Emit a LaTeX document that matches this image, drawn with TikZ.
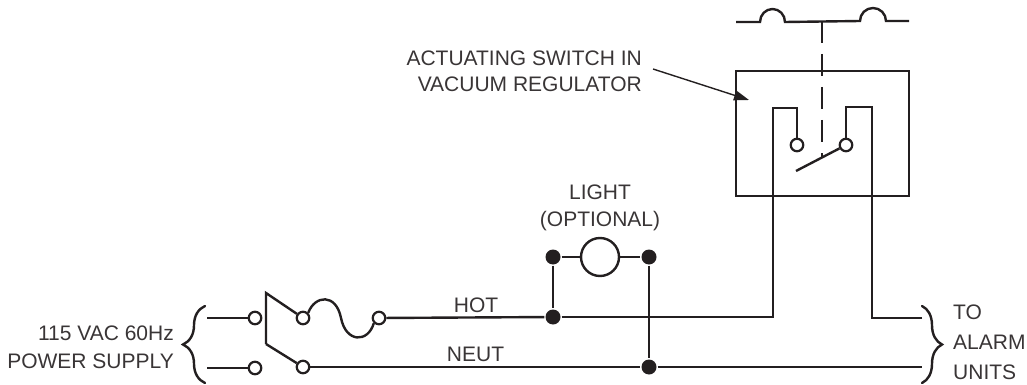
\documentclass[tikz,border=0pt]{standalone}
\usepackage{fontspec}
\setmainfont{Liberation Sans}
\usetikzlibrary{decorations.pathreplacing,arrows.meta}
\definecolor{ink}{HTML}{231F20}
\begin{document}
\begin{tikzpicture}[x=1pt, y=-1pt, ink, line width=2.4pt,
    txt/.style = {draw=none, inner sep=0pt, font=\fontsize{21}{26}\selectfont, text=ink!90},
    term/.style = {circle, draw, fill=white, inner sep=0pt, minimum size=12.5pt, line width=2.2pt},
    spot/.style = {circle, fill, inner sep=0pt, minimum size=15pt},
    brace/.style = {decorate, decoration={brace, amplitude=#1, aspect=0.5}, line cap=round}]
            \useasboundingbox (0,0) rectangle (1027,385);

            \coordinate (hotin) at (207,318);
            \coordinate (neutin) at (207,368);
            \coordinate (hotout) at (922,318);
            \coordinate (neutout) at (922,367);
            \coordinate (pivottop) at (266,293);
            \coordinate (pivotlow) at (266,344);
            \coordinate (blade) at (796,171);
            \coordinate (linkA) at (736,22);
            \coordinate (linkB) at (760,22);
            \coordinate (linkD) at (860,21);
            \coordinate (linkF) at (909,21);
            \coordinate (linkmid) at (822,21);
            \coordinate (linkend) at (822,157);
            \coordinate (hotup) at (773,317);
            \coordinate (hottop) at (773,108);
            \coordinate (hotover) at (797,108);
            \coordinate (alarmdown) at (872,318);
            \coordinate (alarmtop) at (872,107);
            \coordinate (alarmover) at (846,107);
            \coordinate (arrowtail) at (653,69);
            \coordinate (arrowtip) at (749,100);

            \node[draw, rectangle, minimum width=173pt, minimum height=125pt, inner sep=0pt] (housing) at (822.5,133.5) {};

            \node[term] (supplyhot) at (255,318) {};
            \node[term] (supplyneut) at (255,368) {};
            \node[term] (fusein) at (303,318) {};
            \node[term] (neutsw) at (303,367) {};
            \node[term] (fuseout) at (379,318) {};
            \node[term] (contactA) at (797,145) {};
            \node[term] (contactB) at (846,145) {};
            \node[circle, draw, fill=white, inner sep=0pt, minimum size=38pt] (lamp) at (600,257) {};
            \node[spot] (lampL) at (553,257) {};
            \node[spot] (lampR) at (649,257) {};
            \node[spot] (hotjoin) at (553,317) {};
            \node[spot] (neutjoin) at (649,367) {};

            \draw (hotin) -- (supplyhot);
            \draw (neutin) -- (supplyneut);
            \draw (pivotlow) -- (pivottop) -- (fusein);
            \draw (pivotlow) -- (neutsw);
            \draw (fusein.north east) .. controls (315,295) and (336,293) .. (341,318) .. controls (346,343) and (368,343) .. (fuseout.south west);
            \draw (fuseout) -- (hotjoin);
            \draw (hotjoin) -- (hotup) -- (hottop) -- (hotover) -- (contactA);
            \draw (neutsw) -- (neutjoin);
            \draw (neutjoin) -- (neutout);
            \draw (lampL) -- (lamp);
            \draw (lamp) -- (lampR);
            \draw (lampL) -- (hotjoin);
            \draw (lampR) -- (neutjoin);
            \draw (hotout) -- (alarmdown) -- (alarmtop) -- (alarmover) -- (contactB);
            \draw (contactB) -- (blade);
            \draw (linkA) -- (linkB) arc[start angle=180, end angle=0, x radius=12.5pt, y radius=13pt] -- (linkD) arc[start angle=180, end angle=0, x radius=13pt, y radius=13pt] -- (linkF);
            \draw[dash pattern=on 22pt off 11pt] (linkmid) -- (linkend);
            \draw[line width=1.4pt, -{Triangle[length=15pt, width=10pt]}] (arrowtail) -- (arrowtip);
            \draw[brace=22pt] (205,383) -- (205,306);
            \draw[brace=20pt] (922,306) -- (922,383);

            \node[txt, align=right, anchor=east] (actuating) at (643,71) {ACTUATING SWITCH IN\\VACUUM REGULATOR};
            \node[txt, align=center] (lighttext) at (600,208) {LIGHT\\[1pt](OPTIONAL)};
            \node[txt] (hottext) at (476,305) {HOT};
            \node[txt] (neuttext) at (475.5,354) {NEUT};
            \node[txt, align=right, anchor=east] (supplytext) at (175,347) {115 VAC 60Hz\\[2pt]POWER SUPPLY};
            \node[txt, align=left, anchor=west] (alarmtext) at (952,342) {TO\\[4pt]ALARM\\[4pt]UNITS};
        \end{tikzpicture}
\end{document}
